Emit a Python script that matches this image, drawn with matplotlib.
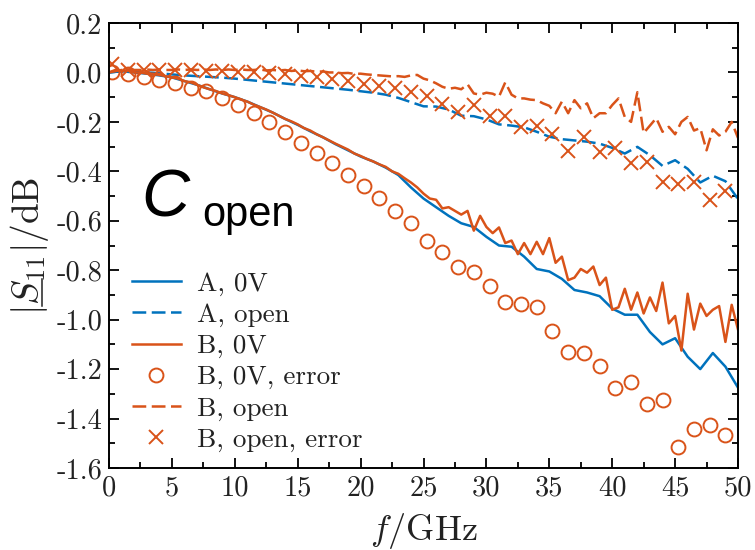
import numpy as np
import matplotlib
matplotlib.use("Agg")
import matplotlib.pyplot as plt
from matplotlib.lines import Line2D
from matplotlib.ticker import FixedLocator, FixedFormatter, MultipleLocator
from matplotlib.font_manager import FontProperties

plt.rcParams['mathtext.fontset'] = 'cm'
plt.rcParams['font.family'] = ['cmr10', 'DejaVu Serif']

# ---------------- data ----------------
f_coarse = np.arange(0, 51, 1.0)          # GHz, 1 GHz grid
f_fine = np.arange(0, 50.01, 0.5)         # GHz, 0.5 GHz grid
f_err = np.arange(0.25, 49.1, 1.25)       # GHz, error-point grid

a_0v = [0.00, 0.005, 0.0, -0.005, -0.012, -0.02, -0.035, -0.05, -0.068, -0.085,
        -0.10, -0.118, -0.14, -0.162, -0.188, -0.212, -0.238, -0.262, -0.29, -0.315,
        -0.34, -0.36, -0.385, -0.415, -0.465, -0.51, -0.545, -0.58, -0.61, -0.625,
        -0.665, -0.70, -0.705, -0.745, -0.795, -0.805, -0.835, -0.88, -0.89, -0.905,
        -0.955, -0.98, -0.98, -1.05, -1.10, -1.075, -1.15, -1.20, -1.135, -1.19,
        -1.275]

a_open = [0.0, 0.005, 0.003, 0.0, -0.003, -0.008, -0.012, -0.015, -0.018, -0.021,
          -0.025, -0.03, -0.035, -0.04, -0.045, -0.05, -0.055, -0.06, -0.065, -0.07,
          -0.076, -0.082, -0.09, -0.103, -0.12, -0.137, -0.138, -0.15, -0.175, -0.177,
          -0.19, -0.21, -0.215, -0.222, -0.24, -0.26, -0.27, -0.275, -0.28, -0.288,
          -0.305, -0.328, -0.301, -0.335, -0.378, -0.355, -0.39, -0.445, -0.418, -0.44,
          -0.512]

b_0v = [0.00, 0.01, 0.005, 0.01, 0.0, 0.0, -0.005, -0.005, -0.01, -0.015,
        -0.02, -0.025, -0.035, -0.04, -0.05, -0.06, -0.068, -0.075, -0.085, -0.092,
        -0.10, -0.11, -0.118, -0.13, -0.14, -0.15, -0.162, -0.175, -0.188, -0.198,
        -0.21, -0.225, -0.235, -0.25, -0.262, -0.275, -0.288, -0.30, -0.312, -0.328,
        -0.338, -0.35, -0.36, -0.372, -0.382, -0.40, -0.41, -0.428, -0.445, -0.465,
        -0.49, -0.51, -0.515, -0.55, -0.545, -0.56, -0.575, -0.56, -0.64, -0.58,
        -0.625, -0.65, -0.627, -0.69, -0.68, -0.735, -0.69, -0.735, -0.685, -0.735,
        -0.67, -0.77, -0.745, -0.84, -0.83, -0.795, -0.81, -0.785, -0.86, -0.83,
        -0.96, -0.95, -0.875, -0.96, -0.89, -0.975, -0.91, -0.965, -0.85, -1.015,
        -0.985, -1.125, -0.895, -1.04, -0.935, -0.985, -0.96, -0.945, -1.09, -0.94,
        -1.04]

b_open = [0.0, 0.005, 0.01, 0.008, 0.01, 0.01, 0.012, 0.01, 0.012, 0.01,
          0.01, 0.012, 0.01, 0.012, 0.01, 0.012, 0.01, 0.012, 0.01, 0.012,
          0.01, 0.012, 0.01, 0.01, 0.012, 0.008, 0.01, 0.008, 0.01, 0.006,
          0.008, 0.005, 0.006, 0.003, 0.004, 0.0, 0.0, -0.003, -0.002, -0.006,
          -0.005, -0.008, -0.01, -0.012, -0.014, -0.016, -0.015, -0.018, -0.012, -0.01,
          -0.025, -0.032, -0.044, -0.058, -0.066, -0.062, -0.068, -0.048, -0.085, -0.09,
          -0.082, -0.086, -0.098, -0.04, -0.09, -0.105, -0.105, -0.11, -0.112, -0.125,
          -0.135, -0.165, -0.118, -0.165, -0.112, -0.145, -0.125, -0.185, -0.165, -0.165,
          -0.132, -0.105, -0.18, -0.20, -0.08, -0.245, -0.215, -0.185, -0.24, -0.22,
          -0.25, -0.20, -0.18, -0.235, -0.225, -0.315, -0.23, -0.255, -0.24, -0.20,
          -0.265]

b_0v_err = [0.00, -0.005, -0.02, -0.03, -0.044, -0.064, -0.075, -0.105, -0.132, -0.165,
            -0.202, -0.24, -0.287, -0.327, -0.368, -0.415, -0.458, -0.506, -0.559, -0.61,
            -0.68, -0.728, -0.786, -0.809, -0.864, -0.927, -0.938, -0.948, -1.045, -1.132,
            -1.134, -1.188, -1.278, -1.251, -1.341, -1.325, -1.514, -1.442, -1.426, -1.467]

b_open_err = [0.035, 0.01, 0.01, 0.01, 0.008, 0.008, 0.005, 0.005, 0.003, 0.003,
              -0.002, -0.008, -0.015, -0.02, -0.028, -0.035, -0.048, -0.056, -0.064, -0.078,
              -0.095, -0.128, -0.159, -0.132, -0.176, -0.176, -0.219, -0.217, -0.25, -0.317,
              -0.262, -0.32, -0.307, -0.368, -0.361, -0.442, -0.451, -0.442, -0.516, -0.478]

labels = ["A, 0V", "A, open", "B, 0V", "B, 0V, error", "B, open", "B, open, error"]
x_ticks = [0, 5, 10, 15, 20, 25, 30, 35, 40, 45, 50]
x_ticklabels = ["0", "5", "10", "15", "20", "25", "30", "35", "40", "45", "50"]
y_ticks = [0.2, 0.0, -0.2, -0.4, -0.6, -0.8, -1.0, -1.2, -1.4, -1.6]
y_ticklabels = ["0.2", "0.0", "-0.2", "-0.4", "-0.6", "-0.8", "-1.0", "-1.2", "-1.4", "-1.6"]

# ---------------- plot ----------------
blue = '#0072BD'
orange = '#D95319'
dash = (5.5, 2.2)
txtcol = '#222222'

fig = plt.figure(figsize=(7.55, 5.5), dpi=100)
ax = fig.add_axes([109/755, 1 - 468/550, 629/755, 445/550])

lw = 1.8
ax.plot(f_coarse, a_0v, color=blue, lw=lw, label=labels[0])
ax.plot(f_coarse, a_open, color=blue, lw=lw, dashes=dash, label=labels[1])
ax.plot(f_fine, b_0v, color=orange, lw=lw, label=labels[2])
ax.plot(f_err, b_0v_err, ls='none', marker='o', ms=10, mfc='none', mec=orange,
        mew=1.4, label=labels[3])
ax.plot(f_fine, b_open, color=orange, lw=lw, dashes=dash, label=labels[4])
ax.plot(f_err, b_open_err, ls='none', marker='x', ms=10.5, mec=orange, mew=1.4,
        label=labels[5])

ax.set_xlim(0, 50)
ax.set_ylim(-1.6, 0.2)
ax.xaxis.set_major_locator(FixedLocator(x_ticks))
ax.xaxis.set_major_formatter(FixedFormatter(x_ticklabels))
ax.yaxis.set_major_locator(FixedLocator(y_ticks))
ax.yaxis.set_major_formatter(FixedFormatter(y_ticklabels))
ax.xaxis.set_minor_locator(MultipleLocator(2.5))
ax.yaxis.set_minor_locator(MultipleLocator(0.1))
ax.tick_params(which='both', direction='in', top=True, right=True, width=1.3,
               labelsize=20.5, color='black', labelcolor=txtcol)
ax.tick_params(which='major', length=7, pad=5)
ax.tick_params(which='minor', length=4)
for s in ax.spines.values():
    s.set_linewidth(1.4)

xfs = 26
yfs = 27
ax.set_xlabel(r'$f/\mathrm{GHz}$', fontsize=xfs, labelpad=7, color=txtcol)
ylab = ax.set_ylabel(r'$|S_{11}|/\mathrm{dB}$', fontsize=yfs, labelpad=4, color=txtcol)

leg = ax.legend(loc='lower left', bbox_to_anchor=(0.019, 0.012), frameon=False,
                fontsize=19.5, handlelength=1.8, handletextpad=0.62, labelspacing=0.26,
                borderaxespad=0.0)
for t in leg.get_texts():
    t.set_color(txtcol)

# C_open label
ax.text(0.052, 0.565, 'C', transform=ax.transAxes, fontsize=48, style='italic',
        family='Liberation Sans', va='baseline', ha='left')
ax.text(0.148, 0.543, 'open', transform=ax.transAxes, fontsize=30,
        family='Liberation Sans', va='baseline', ha='left')

# underline under S in the y label (measured from the rendered label)
fig.canvas.draw()
renderer = fig.canvas.get_renderer()
bb = ylab.get_window_extent(renderer)
prop = FontProperties(size=yfs)
w_bar, _, _ = renderer.get_text_width_height_descent(r'$|$', prop, ismath=True)
w_barS, _, _ = renderer.get_text_width_height_descent(r'$|S$', prop, ismath=True)
_, _, d_full = renderer.get_text_width_height_descent(r'$|S_{11}|/\mathrm{dB}$', prop,
                                                       ismath=True)
em = yfs * 100 / 72.0
ux = bb.x1 - d_full + 0.09 * em
uy0 = bb.y0 + w_bar + 0.02 * em
uy1 = bb.y0 + w_barS - 0.02 * em
fig.add_artist(Line2D([ux / 755, ux / 755], [uy0 / 550, uy1 / 550],
                      transform=fig.transFigure, color=txtcol, lw=1.1))

fig.savefig('out.png', dpi=100)
